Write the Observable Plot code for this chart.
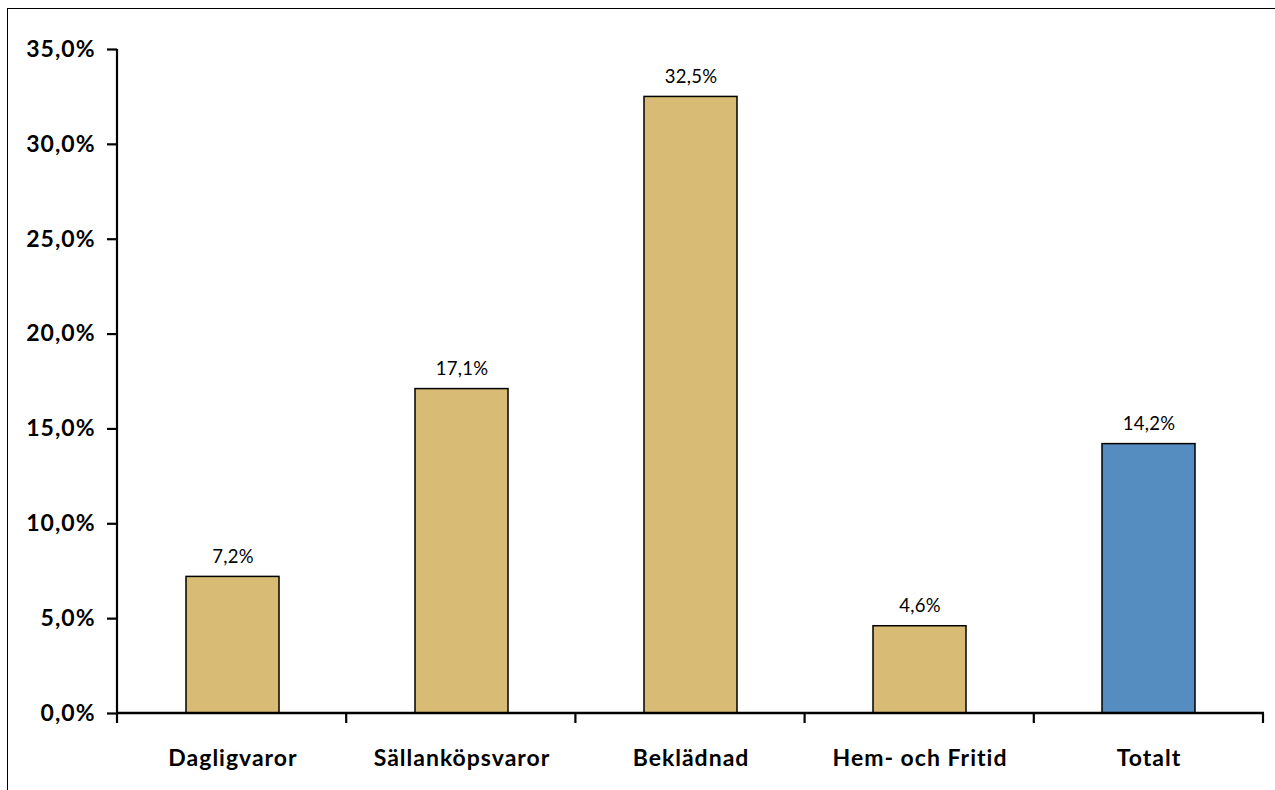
<!DOCTYPE html>
<html>
<head>
<meta charset="utf-8">
<script src="https://cdn.jsdelivr.net/npm/d3@7"></script>
<script src="https://cdn.jsdelivr.net/npm/@observablehq/plot@0.6"></script>
<style>
  html, body { margin: 0; padding: 0; background: #fff; }
  #wrap { position: relative; width: 1275px; height: 790px; overflow: hidden; }
  #border { position: absolute; left: 7px; top: 8px; right: -10px; bottom: -10px; border-left: 1.5px solid #000; border-top: 1.5px solid #000; pointer-events: none; }
  #chart svg { display: block; }
  #chart svg g[aria-label="x-axis tick label"] text,
  #chart svg g[aria-label="y-axis tick label"] text { letter-spacing: 1px; }
  #chart svg g[aria-label="text"] text { letter-spacing: 0.3px; }
</style>
</head>
<body>
<div id="wrap"><div id="chart"></div><div id="border"></div></div>
<script>
const categories = ["Dagligvaror", "Sällanköpsvaror", "Beklädnad", "Hem- och Fritid", "Totalt"];
const values = [7.2, 17.1, 32.5, 4.6, 14.2];
const colors = ["#D8BB74", "#D8BB74", "#D8BB74", "#D8BB74", "#568DC0"];
const yTicks = [0, 5, 10, 15, 20, 25, 30, 35];

const fmtAxis = d => d.toFixed(1).replace(".", ",") + "%";
const fmtVal = d => d.toFixed(1).replace(".", ",") + "%";

const data = categories.map((c, i) => ({cat: c, value: values[i], color: colors[i]}));

function axisLines(index, scales, vals, dims) {
  const {width, marginLeft, marginRight} = dims;
  const y = scales.y;
  const left = marginLeft, right = width - marginRight;
  const n = categories.length;
  const step = (right - left) / n;
  const y0 = y(0), yTop = y(d3.max(yTicks));
  const g = d3.create("svg:g").attr("stroke", "#000").attr("fill", "none");
  g.append("line").attr("x1", left).attr("x2", left).attr("y1", yTop).attr("y2", y0 + 1).attr("stroke-width", 2.2);
  g.append("line").attr("x1", left).attr("x2", right + 1).attr("y1", y0).attr("y2", y0).attr("stroke-width", 2.5);
  for (let i = 0; i <= n; i++) {
    const xx = left + i * step;
    g.append("line").attr("x1", xx).attr("x2", xx).attr("y1", y0).attr("y2", y0 + 10).attr("stroke-width", 2.2);
  }
  return g.node();
}

const chart = Plot.plot({
  width: 1275,
  height: 790,
  marginLeft: 117,
  marginRight: 12,
  marginTop: 49,
  marginBottom: 77,
  style: {fontFamily: "Lato, 'Open Sans', sans-serif", color: "#000", background: "transparent"},
  x: {domain: categories, paddingInner: 0.594, paddingOuter: 0.297, axis: null},
  y: {domain: [0, 35], axis: null},
  marks: [
    Plot.barY(data, {x: "cat", y: "value", fill: d => d.color, stroke: "#000", strokeWidth: 1.5}),
    Plot.text(data, {x: "cat", y: "value", text: d => fmtVal(d.value), dy: -20, fontSize: 18.5, fill: "#000"}),
    Plot.axisY({ticks: yTicks, tickSize: 10, tickPadding: 12, tickFormat: fmtAxis, fontSize: 23, fontWeight: "bold", strokeWidth: 2.2, label: null}),
    Plot.axisX({tickSize: 0, tickPadding: 36, fontSize: 23, fontWeight: "bold", label: null}),
    axisLines
  ]
});
document.getElementById("chart").appendChild(chart);
</script>
</body>
</html>
